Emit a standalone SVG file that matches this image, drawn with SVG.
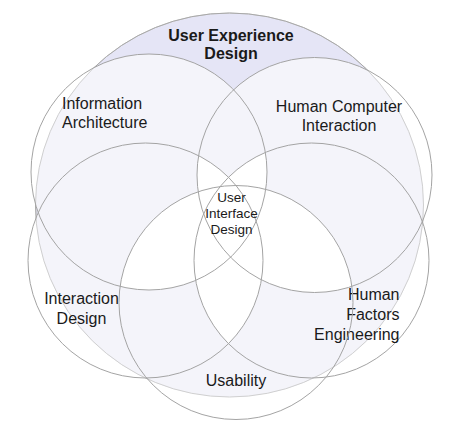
<svg xmlns="http://www.w3.org/2000/svg" width="460" height="438" viewBox="0 0 460 438">
<style>
.lbl{font-family:"Liberation Sans",Arial,sans-serif;font-size:16px;fill:#1a1a1a}
.b{font-weight:bold}
.sm{font-size:13.5px}
.ring{fill:none;stroke:#a4a4a4;stroke-width:1}
.uxring{fill:none;stroke:#d0d0d0;stroke-width:1}
.uxdark{fill:none;stroke:#a8a8a8;stroke-width:1}
</style>
<defs>
<clipPath id="cUX"><ellipse cx="229.5" cy="205" rx="194" ry="192"/></clipPath>
<clipPath id="cIA"><circle cx="149" cy="172" r="118"/></clipPath>
<clipPath id="cHCI"><circle cx="314.5" cy="175" r="117.5"/></clipPath>
<clipPath id="cID"><circle cx="145.5" cy="260.5" r="117.5"/></clipPath>
<clipPath id="cHFE"><circle cx="311.5" cy="260.5" r="117.5"/></clipPath>
<clipPath id="cUS"><circle cx="236" cy="302.5" r="117"/></clipPath>
<circle id="fIA" cx="149" cy="172" r="118"/>
<circle id="fHCI" cx="314.5" cy="175" r="117.5"/>
<circle id="fID" cx="145.5" cy="260.5" r="117.5"/>
<circle id="fHFE" cx="311.5" cy="260.5" r="117.5"/>
<circle id="fUS" cx="236" cy="302.5" r="117"/>
<mask id="outsideSubs" maskUnits="userSpaceOnUse" x="0" y="0" width="460" height="438">
<rect width="460" height="438" fill="#ffffff"/>
<g fill="#000000"><use href="#fIA"/><use href="#fHCI"/><use href="#fID"/><use href="#fHFE"/><use href="#fUS"/></g>
</mask>
</defs>
<rect width="460" height="438" fill="#ffffff"/>
<g id="fills">
<ellipse cx="229.5" cy="205" rx="194" ry="192" fill="#e5e5f6"/>
<g clip-path="url(#cUX)" fill="#f4f4fa">
<use href="#fIA"/><use href="#fHCI"/><use href="#fID"/><use href="#fHFE"/><use href="#fUS"/>
</g>
<g fill="#ffffff">
<g clip-path="url(#cIA)"><g clip-path="url(#cHCI)"><use href="#fID"/></g></g>
<g clip-path="url(#cIA)"><g clip-path="url(#cHCI)"><use href="#fHFE"/></g></g>
<g clip-path="url(#cIA)"><g clip-path="url(#cHCI)"><use href="#fUS"/></g></g>
<g clip-path="url(#cIA)"><g clip-path="url(#cID)"><use href="#fHFE"/></g></g>
<g clip-path="url(#cIA)"><g clip-path="url(#cID)"><use href="#fUS"/></g></g>
<g clip-path="url(#cIA)"><g clip-path="url(#cHFE)"><use href="#fUS"/></g></g>
<g clip-path="url(#cHCI)"><g clip-path="url(#cID)"><use href="#fHFE"/></g></g>
<g clip-path="url(#cHCI)"><g clip-path="url(#cID)"><use href="#fUS"/></g></g>
<g clip-path="url(#cHCI)"><g clip-path="url(#cHFE)"><use href="#fUS"/></g></g>
<g clip-path="url(#cID)"><g clip-path="url(#cHFE)"><use href="#fUS"/></g></g>
</g>
</g>
<g id="ux">
<ellipse class="uxring" cx="229.5" cy="205" rx="194" ry="192"/>
<ellipse class="uxdark" cx="229.5" cy="205" rx="194" ry="192" mask="url(#outsideSubs)"/>
<text class="lbl b" x="231" y="41" text-anchor="middle">User Experience</text>
<text class="lbl b" x="231" y="59" text-anchor="middle">Design</text>
</g>
<g id="ia">
<circle class="ring" cx="149" cy="172" r="118"/>
<text class="lbl" x="62" y="109">Information</text>
<text class="lbl" x="62" y="128">Architecture</text>
</g>
<g id="hci">
<circle class="ring" cx="314.5" cy="175" r="117.5"/>
<text class="lbl" x="339" y="112" text-anchor="middle">Human Computer</text>
<text class="lbl" x="339" y="131" text-anchor="middle">Interaction</text>
</g>
<g id="id">
<circle class="ring" cx="145.5" cy="260.5" r="117.5"/>
<text class="lbl" x="81.5" y="304" text-anchor="middle">Interaction</text>
<text class="lbl" x="81.5" y="324" text-anchor="middle">Design</text>
</g>
<g id="hfe">
<circle class="ring" cx="311.5" cy="260.5" r="117.5"/>
<text class="lbl" x="399.5" y="300" text-anchor="end">Human</text>
<text class="lbl" x="399.5" y="320" text-anchor="end">Factors</text>
<text class="lbl" x="399.5" y="340" text-anchor="end">Engineering</text>
</g>
<g id="us">
<circle class="ring" cx="236" cy="302.5" r="117"/>
<text class="lbl" x="236" y="386" text-anchor="middle">Usability</text>
</g>
<g id="uid">
<text class="lbl sm" x="231.5" y="202" text-anchor="middle">User</text>
<text class="lbl sm" x="231.5" y="218" text-anchor="middle">Interface</text>
<text class="lbl sm" x="231.5" y="234" text-anchor="middle">Design</text>
</g>
<g id="connectors"/>
</svg>
